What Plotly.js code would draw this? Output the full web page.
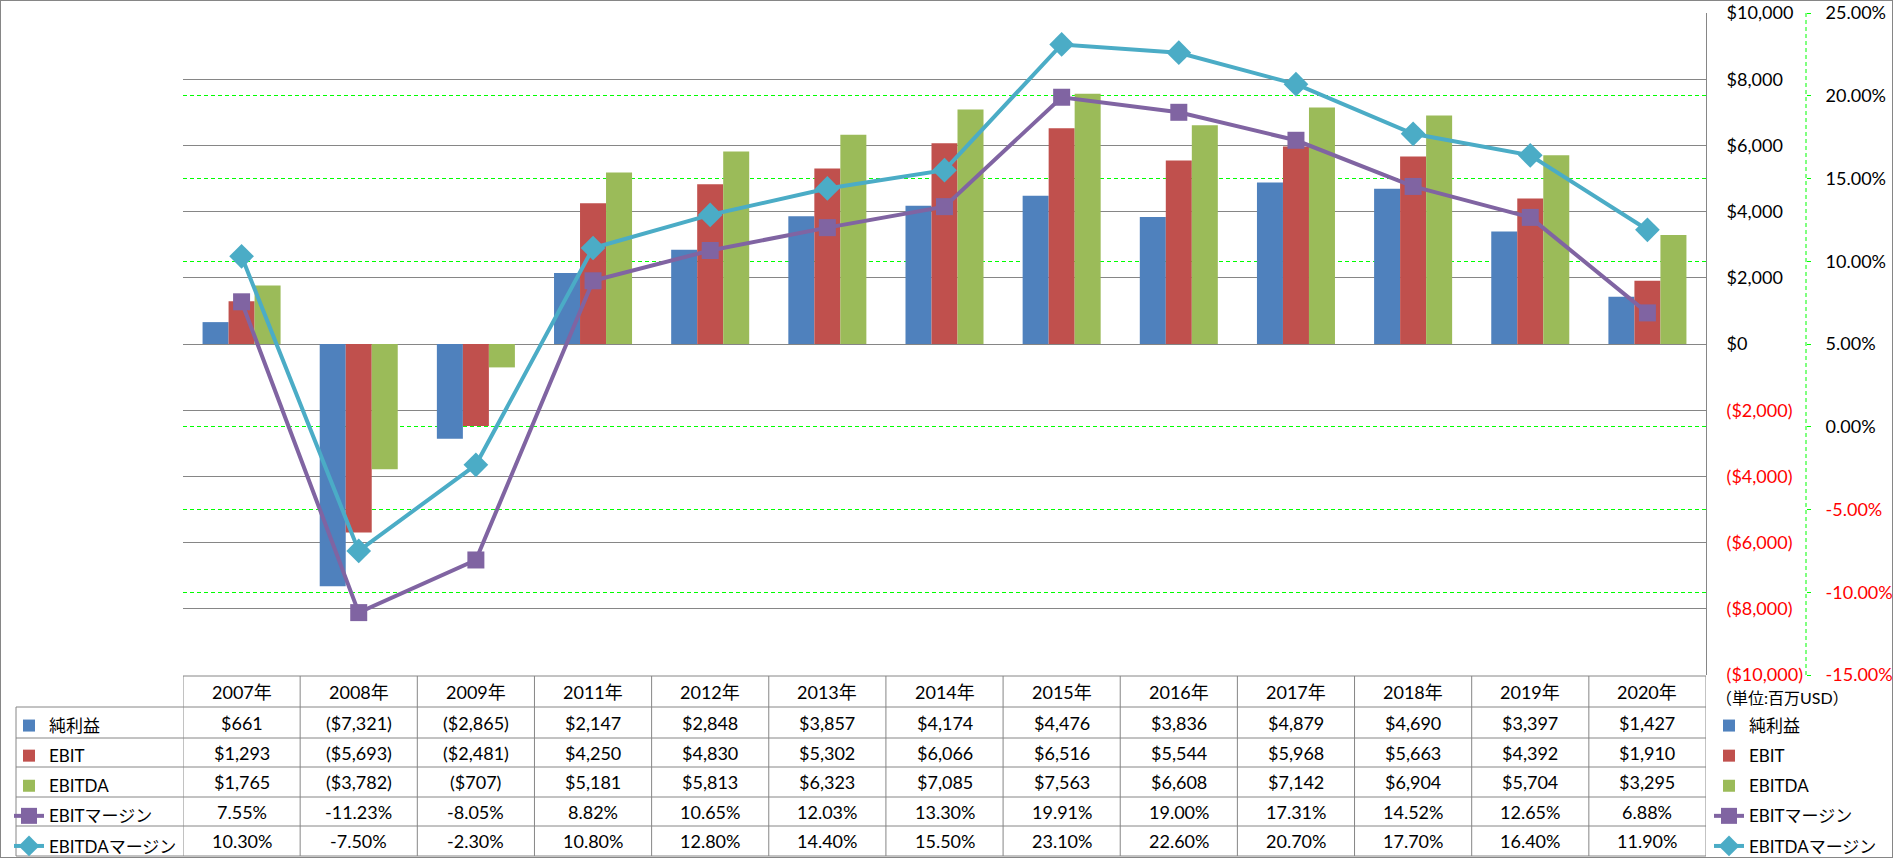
<!DOCTYPE html>
<html><head><meta charset="utf-8">
<script src="https://cdn.plot.ly/plotly-3.0.1.min.js"></script>
<style>html,body{margin:0;padding:0;background:#fff}#chart{width:1891px;height:856px;border:1px solid #868686}</style>
</head><body><div id="chart"></div><script>
// ---- data ----
const categories = ['2007年','2008年','2009年','2011年','2012年','2013年','2014年','2015年','2016年','2017年','2018年','2019年','2020年'];
const netIncome  = [661, -7321, -2865, 2147, 2848, 3857, 4174, 4476, 3836, 4879, 4690, 3397, 1427];
const ebit       = [1293, -5693, -2481, 4250, 4830, 5302, 6066, 6516, 5544, 5968, 5663, 4392, 1910];
const ebitda     = [1765, -3782, -707, 5181, 5813, 6323, 7085, 7563, 6608, 7142, 6904, 5704, 3295];
const ebitMargin   = [7.55, -11.23, -8.05, 8.82, 10.65, 12.03, 13.30, 19.91, 19.00, 17.31, 14.52, 12.65, 6.88];
const ebitdaMargin = [10.30, -7.50, -2.30, 10.80, 12.80, 14.40, 15.50, 23.10, 22.60, 20.70, 17.70, 16.40, 11.90];
const seriesNames = ['純利益','EBIT','EBITDA','EBITマージン','EBITDAマージン'];
const usdTicks = [-10000,-8000,-6000,-4000,-2000,0,2000,4000,6000,8000,10000];
const pctTicks = [-15,-10,-5,0,5,10,15,20,25];
const pctGridTicks = [-10,-5,0,10,15,20];   // secondary gridlines not hidden by primary ones
const unitLabel = '（単位:百万USD）';

// ---- styles / layout constants ----
const COLORS = ['#4F81BD','#C0504D','#9BBB59','#8064A2','#4BACC6'];
const GRAY = '#868686', GREEN = '#00FF00', RED = '#FF0000';
const FONT = "Lato, 'Noto Sans CJK JP', sans-serif";
const W = 1891, H = 856, L = 182, T = 12, B = 182;
const PW = W - L, PH = H - T - B;
const xp = px => (px - 1 - L) / PW;          // full-image x pixel -> paper
const yp = py => (H - B - (py - 1)) / PH;    // full-image y pixel -> paper
const rowEdges = [676, 707, 738, 767, 797, 826, 856];
const rowCenters = rowEdges.slice(0, -1).map((e, i) => (e + rowEdges[i + 1]) / 2);

const fmtUSD = v => { const s = '$' + Math.abs(v).toLocaleString('en-US'); return v < 0 ? '(' + s + ')' : s; };
const fmtPct = v => v.toFixed(2) + '%';
const red = s => '<span style="color:' + RED + '">' + s + '</span>';

const barSeries = [netIncome, ebit, ebitda];
const lineSeries = [ebitMargin, ebitdaMargin];
const symbols = ['square', 'diamond'];
const symSizes = [17, 19];

const traces = [];
// empty trace so the secondary-gridline axis is drawn
traces.push({type:'scatter', mode:'markers', x:[categories[0]], y:[null], yaxis:'y3', showlegend:false, hoverinfo:'skip'});
barSeries.forEach((ys, i) => {
  traces.push({type:'bar', x:categories, y:ys, name:seriesNames[i], marker:{color:COLORS[i], line:{width:0}},
    offsetgroup:'g'+i, legend:'legend', legendgroup:'a'+i, hoverinfo:'skip'});
});
lineSeries.forEach((ys, j) => {
  const i = j + 3;
  traces.push({type:'scatter', mode:'lines+markers', x:categories, y:ys, yaxis:'y2', name:seriesNames[i],
    line:{color:COLORS[i], width:4}, marker:{symbol:symbols[j], size:symSizes[j], color:COLORS[i], line:{width:0}},
    legend:'legend', legendgroup:'a'+i, hoverinfo:'skip', cliponaxis:false});
});
// keys for the data-table's first column (second legend)
barSeries.forEach((ys, i) => {
  traces.push({type:'bar', x:[categories[0]], y:[null], name:seriesNames[i], marker:{color:COLORS[i]},
    offsetgroup:'g'+i, legend:'legend2', legendgroup:'b'+i, hoverinfo:'skip'});
});
lineSeries.forEach((ys, j) => {
  const i = j + 3;
  traces.push({type:'scatter', mode:'lines+markers', x:[null], y:[null], yaxis:'y2', name:seriesNames[i],
    line:{color:COLORS[i], width:4}, marker:{symbol:symbols[j], size:symSizes[j], color:COLORS[i]},
    legend:'legend2', legendgroup:'b'+i, hoverinfo:'skip'});
});

// ---- data table: annotations + grid shapes ----
const annotations = [];
categories.forEach((c, k) => {
  annotations.push({xref:'x', yref:'paper', x:c, y:yp(rowCenters[0]), text:c, showarrow:false, xanchor:'center', yanchor:'middle'});
  barSeries.forEach((ys, i) => annotations.push({xref:'x', yref:'paper', x:c, y:yp(rowCenters[i+1]), text:fmtUSD(ys[k]), showarrow:false, xanchor:'center', yanchor:'middle'}));
  lineSeries.forEach((ys, j) => annotations.push({xref:'x', yref:'paper', x:c, y:yp(rowCenters[j+4]), text:fmtPct(ys[k]), showarrow:false, xanchor:'center', yanchor:'middle'}));
});
annotations.push({xref:'paper', yref:'paper', x:xp(1714), y:yp(697), text:unitLabel, showarrow:false, xanchor:'left', yanchor:'middle', font:{size:16, family:FONT, color:'#000'}});

const shapes = [];
const lineStyle = {color:GRAY, width:1};
rowEdges.forEach((e, r) => {
  shapes.push({type:'line', xref:'paper', yref:'paper', x0: r === 0 ? xp(183) : xp(16), x1: xp(1706), y0: yp(e), y1: yp(e), line:lineStyle});
});
for (let k = 0; k <= categories.length; k++) {
  shapes.push({type:'line', xref:'x', yref:'paper', x0:k-0.5, x1:k-0.5, y0:yp(rowEdges[0]), y1:yp(rowEdges[rowEdges.length-1]), line:lineStyle});
}
shapes.push({type:'line', xref:'paper', yref:'paper', x0:xp(16), x1:xp(16), y0:yp(rowEdges[1]), y1:yp(rowEdges[rowEdges.length-1]), line:lineStyle});
// secondary axis dashed line
shapes.push({type:'line', xref:'paper', yref:'paper', x0:xp(1806), x1:xp(1806), y0:0, y1:1, line:{color:GREEN, width:1, dash:'4px,3px'}});

const layout = {
  width:W, height:H, margin:{l:L, r:0, t:T, b:B, autoexpand:false},
  paper_bgcolor:'#fff', plot_bgcolor:'#fff',
  font:{family:FONT, size:18, color:'#000'},
  barmode:'group', bargap:0.334, bargroupgap:0,
  xaxis:{type:'category', domain:[0, xp(1706)], range:[-0.5, categories.length-0.5], showgrid:false, showticklabels:false,
    showline:false, zeroline:false, ticks:'', fixedrange:true},
  yaxis:{domain:[0,1], range:[-10000,10000], side:'right', tickvals:usdTicks,
    ticktext:usdTicks.map(v => v < 0 ? red(fmtUSD(v)) : fmtUSD(v)),
    showgrid:true, gridcolor:GRAY, gridwidth:1, showline:true, linecolor:GRAY, linewidth:1, ticks:'', zeroline:false,
    ticklabelstandoff:16, tickfont:{size:18}, fixedrange:true},
  yaxis2:{overlaying:'y', anchor:'free', position:xp(1806), side:'right', range:[-15,25], tickvals:pctTicks,
    ticktext:pctTicks.map(v => v < 0 ? red(fmtPct(v)) : fmtPct(v)),
    showgrid:false, showline:false, zeroline:false,
    ticks:'outside', ticklen:4, tickcolor:GREEN, ticklabelstandoff:11, tickfont:{size:18}, fixedrange:true},
  yaxis3:{overlaying:'y', anchor:'x', side:'right', range:[-15,25], tickvals:pctGridTicks, showticklabels:false, ticks:'',
    showgrid:true, gridcolor:GREEN, gridwidth:1, griddash:'4px,3px', showline:false, zeroline:false, fixedrange:true},
  legend:{x:xp(1709), y:yp(708), xanchor:'left', yanchor:'top', bgcolor:'rgba(0,0,0,0)', borderwidth:0,
    font:{size:17, family:FONT, color:'#000'}, tracegroupgap:5, traceorder:'grouped', itemclick:false, itemdoubleclick:false},
  legend2:{x:xp(9), y:yp(708), xanchor:'left', yanchor:'top', bgcolor:'rgba(0,0,0,0)', borderwidth:0,
    font:{size:17, family:FONT, color:'#000'}, tracegroupgap:5, traceorder:'grouped', itemclick:false, itemdoubleclick:false},
  showlegend:true,
  annotations:annotations,
  shapes:shapes
};
Plotly.newPlot('chart', traces, layout, {displayModeBar:false, staticPlot:true});
</script></body></html>
